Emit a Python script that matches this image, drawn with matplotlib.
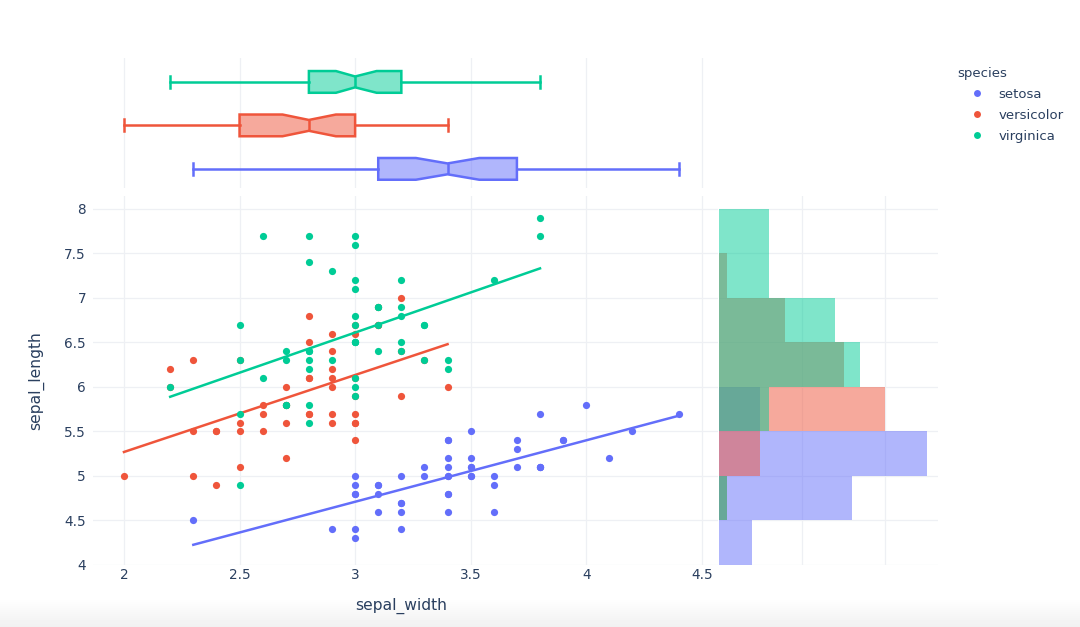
import matplotlib
matplotlib.use("Agg")
import matplotlib.pyplot as plt
import numpy as np
from matplotlib.colors import to_rgba
from matplotlib.lines import Line2D

species = ["setosa", "versicolor", "virginica"]
colors = ["#636EFA", "#EF553B", "#00CC96"]

setosa_length = [5.1, 4.9, 4.7, 4.6, 5.0, 5.4, 4.6, 5.0, 4.4, 4.9, 5.4, 4.8, 4.8, 4.3, 5.8, 5.7, 5.4,
                 5.1, 5.7, 5.1, 5.4, 5.1, 4.6, 5.1, 4.8, 5.0, 5.0, 5.2, 5.2, 4.7, 4.8, 5.4, 5.2, 5.5,
                 4.9, 5.0, 5.5, 4.9, 4.4, 5.1, 5.0, 4.5, 4.4, 5.0, 5.1, 4.8, 5.1, 4.6, 5.3, 5.0]
setosa_width = [3.5, 3.0, 3.2, 3.1, 3.6, 3.9, 3.4, 3.4, 2.9, 3.1, 3.7, 3.4, 3.0, 3.0, 4.0, 4.4, 3.9,
                3.5, 3.8, 3.8, 3.4, 3.7, 3.6, 3.3, 3.4, 3.0, 3.4, 3.5, 3.4, 3.2, 3.1, 3.4, 4.1, 4.2,
                3.1, 3.2, 3.5, 3.6, 3.0, 3.4, 3.5, 2.3, 3.2, 3.5, 3.8, 3.0, 3.8, 3.2, 3.7, 3.3]
versicolor_length = [7.0, 6.4, 6.9, 5.5, 6.5, 5.7, 6.3, 4.9, 6.6, 5.2, 5.0, 5.9, 6.0, 6.1, 5.6, 6.7, 5.6,
                     5.8, 6.2, 5.6, 5.9, 6.1, 6.3, 6.1, 6.4, 6.6, 6.8, 6.7, 6.0, 5.7, 5.5, 5.5, 5.8, 6.0,
                     5.4, 6.0, 6.7, 6.3, 5.6, 5.5, 5.5, 6.1, 5.8, 5.0, 5.6, 5.7, 5.7, 6.2, 5.1, 5.7]
versicolor_width = [3.2, 3.2, 3.1, 2.3, 2.8, 2.8, 3.3, 2.4, 2.9, 2.7, 2.0, 3.0, 2.2, 2.9, 2.9, 3.1, 3.0,
                    2.7, 2.2, 2.5, 3.2, 2.8, 2.5, 2.8, 2.9, 3.0, 2.8, 3.0, 2.9, 2.6, 2.4, 2.4, 2.7, 2.7,
                    3.0, 3.4, 3.1, 2.3, 3.0, 2.5, 2.6, 3.0, 2.6, 2.3, 2.7, 3.0, 2.9, 2.9, 2.5, 2.8]
virginica_length = [6.3, 5.8, 7.1, 6.3, 6.5, 7.6, 4.9, 7.3, 6.7, 7.2, 6.5, 6.4, 6.8, 5.7, 5.8, 6.4, 6.5,
                    7.7, 7.7, 6.0, 6.9, 5.6, 7.7, 6.3, 6.7, 7.2, 6.2, 6.1, 6.4, 7.2, 7.4, 7.9, 6.4, 6.3,
                    6.1, 7.7, 6.3, 6.4, 6.0, 6.9, 6.7, 6.9, 5.8, 6.8, 6.7, 6.7, 6.3, 6.5, 6.2, 5.9]
virginica_width = [3.3, 2.7, 3.0, 2.9, 3.0, 3.0, 2.5, 2.9, 2.5, 3.6, 3.2, 2.7, 3.0, 2.5, 2.8, 3.2, 3.0,
                   3.8, 2.6, 2.2, 3.2, 2.8, 2.8, 2.7, 3.3, 3.2, 2.8, 3.0, 2.8, 3.0, 2.8, 3.8, 2.8, 2.8,
                   2.6, 3.0, 3.4, 3.1, 3.0, 3.1, 3.1, 3.1, 2.7, 3.2, 3.3, 3.0, 2.5, 3.0, 3.4, 3.0]

lengths = [setosa_length, versicolor_length, virginica_length]
widths = [setosa_width, versicolor_width, virginica_width]

# box stats
box_low = [2.3, 2.0, 2.2]
box_q1 = [3.1, 2.5, 2.8]
box_notch_low = [3.263, 2.686, 2.917]
box_median = [3.4, 2.8, 3.0]
box_notch_high = [3.537, 2.917, 3.093]
box_q3 = [3.7, 3.0, 3.2]
box_high = [4.4, 3.4, 3.8]

x_ticks = [2, 2.5, 3, 3.5, 4, 4.5]
x_labels = ["2", "2.5", "3", "3.5", "4", "4.5"]
y_ticks = [4, 4.5, 5, 5.5, 6, 6.5, 7, 7.5, 8]
y_labels = ["4", "4.5", "5", "5.5", "6", "6.5", "7", "7.5", "8"]
hist_bins = [4, 4.5, 5, 5.5, 6, 6.5, 7, 7.5, 8]
hist_ticks = [10, 20]

W, H = 1080, 627
GRID = "#eef0f4"
TEXT = "#2a3f5f"


def px_axes(fig, left, top, right, bottom):
    return fig.add_axes([left / W, 1 - bottom / H, (right - left) / W, (bottom - top) / H])


def clean(ax):
    for spine in ax.spines.values():
        spine.set_visible(False)
    ax.set_axisbelow(True)
    ax.set_facecolor("none")
    ax.grid(True, color=GRID, linewidth=0.9)
    ax.tick_params(length=0, colors=TEXT, labelsize=9.8)


fig = plt.figure(figsize=(W / 100, H / 100), dpi=100)

# faint grey band along the bottom of the screenshot
bg = fig.add_axes([0, 0, 1, 1], zorder=-1)
shade = np.ones((H, 1))
shade[597:, 0] = np.linspace(1.0, 0.945, H - 597)
bg.imshow(shade, cmap="gray", vmin=0, vmax=1, aspect="auto")
bg.axis("off")

ax_main = px_axes(fig, 93, 196, 718, 565)
ax_top = px_axes(fig, 93, 58, 718, 188)
ax_right = px_axes(fig, 718.7, 196, 938, 565)

for i, name in enumerate(species):
    x = np.array(widths[i])
    y = np.array(lengths[i])
    ax_main.scatter(x, y, s=27, color=colors[i], linewidths=0, zorder=3)
    slope, intercept = np.polyfit(x, y, 1)
    line_x = np.array([x.min(), x.max()])
    ax_main.plot(line_x, slope * line_x + intercept, color=colors[i], linewidth=1.8, zorder=3)

    stats = [{"whislo": box_low[i], "q1": box_q1[i], "cilo": box_notch_low[i], "med": box_median[i],
              "cihi": box_notch_high[i], "q3": box_q3[i], "whishi": box_high[i], "fliers": []}]
    line_style = {"color": colors[i], "linewidth": 1.8}
    ax_top.bxp(stats, positions=[i], widths=0.5, capwidths=0.28, orientation="horizontal",
               shownotches=True, showfliers=False, patch_artist=True,
               boxprops={"facecolor": to_rgba(colors[i], 0.5), "edgecolor": colors[i], "linewidth": 1.8},
               medianprops=line_style, whiskerprops=line_style, capprops=line_style)

    ax_right.hist(lengths[i], bins=hist_bins, orientation="horizontal", color=colors[i], alpha=0.5,
                  linewidth=0)

clean(ax_main)
ax_main.set_xlim(1.866, 4.57)
ax_main.set_ylim(4, 8.146)
ax_main.set_xticks(x_ticks, x_labels)
ax_main.set_yticks(y_ticks, y_labels)
ax_main.tick_params(axis="x", pad=2.5)
ax_main.tick_params(axis="y", pad=5)
ax_main.set_xlabel("sepal_width", fontsize=11.2, color=TEXT)
ax_main.xaxis.set_label_coords(0.493, -0.089)
ax_main.set_ylabel("sepal_length", fontsize=11.2, color=TEXT)
ax_main.yaxis.set_label_coords(-0.078, 0.5)

clean(ax_top)
ax_top.set_xlim(1.866, 4.57)
ax_top.set_ylim(-0.44, 2.55)
ax_top.set_xticks(x_ticks, [])
ax_top.set_yticks([])
ax_top.grid(False, axis="y")

clean(ax_right)
ax_right.set_xlim(0, 26.3)
ax_right.set_ylim(4, 8.146)
ax_right.set_xticks(hist_ticks, [])
ax_right.set_yticks(y_ticks, [])

handles = [Line2D([], [], linestyle="none", marker="o", markersize=5.0, markeredgewidth=0,
                  color=c, label=name) for c, name in zip(colors, species)]
leg = fig.legend(handles=handles, title="species", loc="upper left", bbox_to_anchor=(957.5 / W, 1 - 67 / H),
                 frameon=False, borderpad=0, borderaxespad=0, alignment="left", fontsize=9.5,
                 title_fontsize=9.5, labelspacing=0.6, handlelength=3.0, handletextpad=0.1, labelcolor=TEXT)
leg.get_title().set_color(TEXT)

fig.savefig("out.png", dpi=100)
